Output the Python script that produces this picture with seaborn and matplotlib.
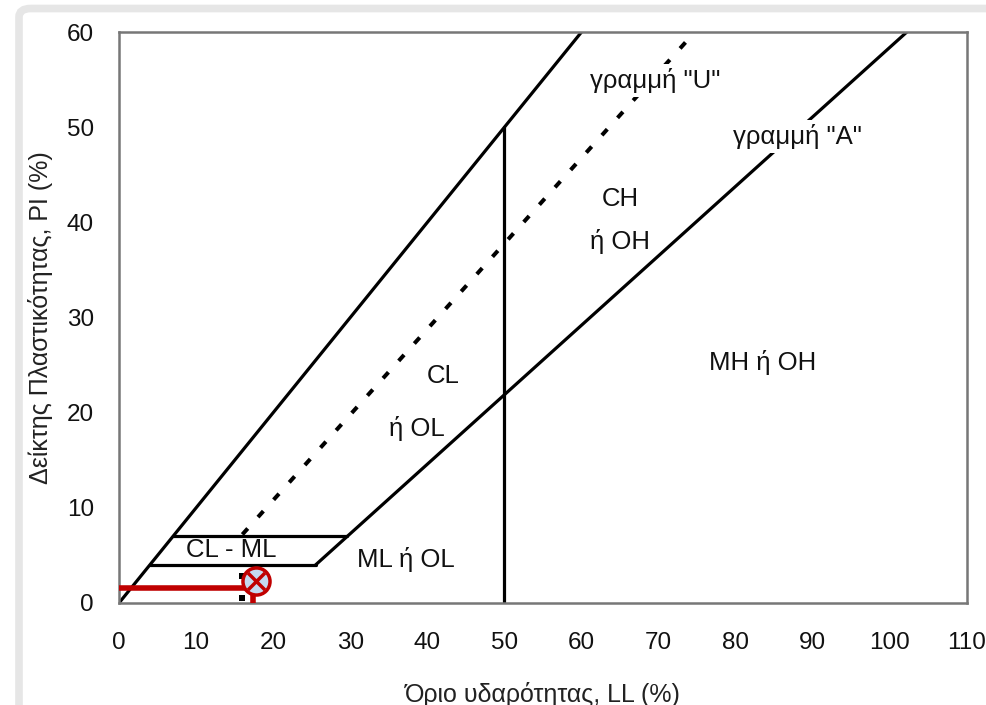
import matplotlib
matplotlib.use("Agg")
import matplotlib.pyplot as plt
import seaborn as sns
from matplotlib.patches import FancyBboxPatch
from matplotlib.ticker import MultipleLocator

# === DATA (Casagrande plasticity chart) ===
upper_ll = [0, 60]          # PI = LL boundary
upper_pi = [0, 60]
u_line_ll = [16, 74.7]      # "U" line, dashed
u_line_pi = [7.2, 60]
a_line_ll = [25.5, 102.2]   # "A" line
a_line_pi = [4, 60]
ll50_ll = [50, 50]          # LL = 50 divider
ll50_pi = [0, 50]
pi7_ll = [7, 29.6]
pi7_pi = [7, 7]
pi4_ll = [4, 25.5]
pi4_pi = [4, 4]

sample_line_ll = [0, 16.8]
sample_line_pi = [1.6, 1.6]
sample_stub_ll = [17.4, 17.4]
sample_stub_pi = [0, 2.0]
sample_ll = [17.8]
sample_pi = [2.3]
speck_ll = [16.0, 16.0]
speck_pi = [2.8, 0.5]

region_labels = ["CL - ML", "ML ή OL", "CL", "ή OL", "CH", "ή OH", "MH ή OH"]
region_ll = [14.6, 37.2, 42.0, 38.7, 65.0, 65.0, 83.5]
region_pi = [5.6, 4.6, 23.9, 18.3, 42.4, 38.0, 25.3]

x_ticks = [0, 10, 20, 30, 40, 50, 60, 70, 80, 90, 100, 110]
y_ticks = [0, 10, 20, 30, 40, 50, 60]

# === STYLE ===
sns.set_style("white")
plt.rcParams["font.family"] = ["Liberation Sans", "DejaVu Sans"]

fig = plt.figure(figsize=(9.86, 7.05), dpi=100)
ax = fig.add_axes([0.1207, 0.1447, 0.86, 0.8099])

# screenshot frame
frame = FancyBboxPatch((19 / 986, -0.2), 1.2, 1.2 - 8.5 / 705,
                       boxstyle="round,pad=0,rounding_size=0.012",
                       transform=fig.transFigure, fill=False,
                       edgecolor="#e6e6e6", linewidth=5.5, zorder=0)
fig.patches.append(frame)

lw = 2.3
for xs, ys in [(upper_ll, upper_pi), (a_line_ll, a_line_pi), (ll50_ll, ll50_pi),
               (pi7_ll, pi7_pi), (pi4_ll, pi4_pi)]:
    sns.lineplot(x=xs, y=ys, ax=ax, color="black", linewidth=lw, sort=False,
                 estimator=None, zorder=2)

sns.lineplot(x=u_line_ll, y=u_line_pi, ax=ax, color="black", linewidth=lw + 0.6,
             sort=False, estimator=None, zorder=2,
             linestyle=(0, (2.0, 3.8)))

# sample point
sns.lineplot(x=sample_line_ll, y=sample_line_pi, ax=ax, color="#c00000",
             linewidth=4, sort=False, estimator=None, zorder=4)
sns.lineplot(x=sample_stub_ll, y=sample_stub_pi, ax=ax, color="#c00000",
             linewidth=4, sort=False, estimator=None, zorder=4)
sns.scatterplot(x=speck_ll, y=speck_pi, ax=ax, marker="s", s=18,
                color="black", edgecolor="none", zorder=3)
sns.scatterplot(x=sample_ll, y=sample_pi, ax=ax, marker="o", s=380,
                facecolor="#c5d9ef", edgecolor="#c00000", linewidth=2.5, zorder=5)
sns.scatterplot(x=sample_ll, y=sample_pi, ax=ax, marker="x", s=150,
                color="#c00000", linewidth=2.5, zorder=6)

# region labels
for lab, xv, yv in zip(region_labels, region_ll, region_pi):
    ax.text(xv, yv, lab, fontsize=18.5, ha="center", va="center", color="#111111",
            zorder=3)

ax.text(69.6, 54.9, 'γραμμή "U"', fontsize=18.5, ha="center", va="center",
        color="#111111", zorder=3,
        bbox=dict(facecolor="white", edgecolor="none", pad=3))
ax.text(88.0, 49.0, 'γραμμή "A"', fontsize=18.5, ha="center", va="center",
        color="#111111", zorder=3,
        bbox=dict(facecolor="white", edgecolor="none", pad=3))

# axes
ax.set_xlim(0, 110)
ax.set_ylim(0, 60)
ax.set_xticks(x_ticks)
ax.set_yticks(y_ticks)
ax.xaxis.set_minor_locator(MultipleLocator(5))
ax.yaxis.set_minor_locator(MultipleLocator(5))
ax.tick_params(axis="both", which="major", labelsize=17.5, colors="#666666",
               labelcolor="#111111", direction="inout", length=14, width=1.5)
ax.tick_params(axis="y", which="minor", direction="in", length=7, width=1.3,
               colors="#777777")
ax.tick_params(axis="x", which="minor", direction="inout", length=8, width=1.3,
               colors="#777777")
ax.tick_params(axis="x", which="major", pad=14)
ax.tick_params(axis="y", which="major", pad=11)
for side in ["left", "bottom", "top", "right"]:
    ax.spines[side].set_color("#777777")
    ax.spines[side].set_linewidth(1.8)

ax.set_xlabel("Όριο υδαρότητας, LL (%)", fontsize=18, color="#222222", labelpad=20)
ax.set_ylabel("Δείκτης Πλαστικότητας, PI (%)", fontsize=18, color="#222222",
              labelpad=10)

fig.savefig("out.png", dpi=100)
